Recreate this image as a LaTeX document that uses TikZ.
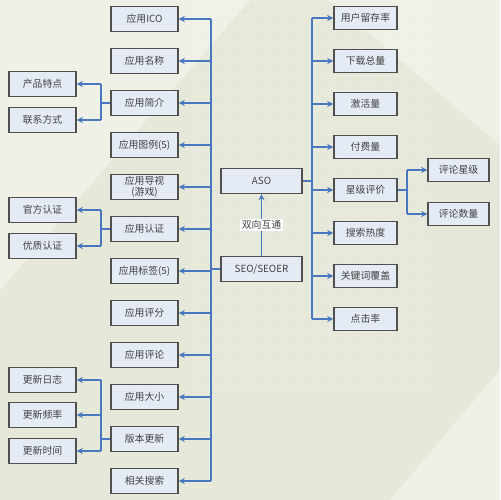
\documentclass[tikz,border=0pt]{standalone}
\usepackage{fontspec}
\newfontfamily\cjk{Noto Sans CJK SC}
\definecolor{bgdark}{HTML}{E6E9D9}
\definecolor{bglight}{HTML}{EFF1E7}
\definecolor{boxfill}{HTML}{E5EBF5}
\definecolor{boxline}{HTML}{505050}
\definecolor{linkblue}{HTML}{4A78C0}
\tikzset{
 box/.style={draw=boxline,line width=0.7pt,fill=boxfill,minimum width=1.34cm,minimum height=0.5cm,inner sep=0pt,align=center,text=black!75,font=\cjk\fontsize{5.6}{6.2}\selectfont},
 rbox/.style={box,minimum width=1.26cm,minimum height=0.46cm},
 link/.style={draw=linkblue,line width=0.6pt},
 arr/.style={link,->,>=stealth},
}
\begin{document}
\begin{tikzpicture}[x=0.02cm,y=-0.02cm]
 \useasboundingbox (0,0) rectangle (500,500);
 \fill[bgdark] (0,0) rectangle (500,500); %背景
 \fill[bglight] (0,0)--(250,0)--(0,290)--cycle;
 \fill[bglight] (330,0)--(500,0)--(500,145)--cycle;
 \fill[bglight] (390,500)--(500,500)--(500,370)--cycle;
 \draw[white,opacity=0.18,line width=0.3pt,step=0.3cm] (190,0) grid (430,390); %格子
 \coordinate (lbus) at (211,0);
 \coordinate (rbus) at (312,0);
 \coordinate (lbr) at (101,0);
 \coordinate (rbr) at (407,0);
 %中央の列
 \foreach \n/\t [count=\i from 0] in {ico/应用ICO,name/应用名称,intro/应用简介,shots/应用图例(5),video/{应用导视\\(游戏)},cert/应用认证,tags/应用标签(5),score/应用评分,review/应用评论,size/应用大小,update/版本更新,search/相关搜索}
  \node[box] (\n) at (144.5,19+42*\i) {\t};
 %左の列
 \node[box] (feat) at (42.5,84) {产品特点};
 \node[box] (contact) at (42.5,120) {联系方式};
 \node[box] (official) at (42.5,210) {官方认证};
 \node[box] (quality) at (42.5,246) {优质认证};
 \node[box] (log) at (42.5,380) {更新日志};
 \node[box] (freq) at (42.5,415) {更新频率};
 \node[box] (time) at (42.5,451) {更新时间};
 %ASO と SEO
 \node[box,minimum width=1.62cm] (aso) at (261.5,181) {ASO};
 \node[box,minimum width=1.62cm] (seo) at (261.5,269) {SEO/SEOER};
 %右の列
 \foreach \n/\t [count=\i from 0] in {retain/用户留存率,dl/下载总量,act/激活量,pay/付费量,star/星级评价,heat/搜索热度,kw/关键词覆盖,ctr/点击率}
  \node[rbox] (\n) at (365.5,18+43*\i) {\t};
 \node[rbox,minimum width=1.22cm] (starlv) at (458.5,170) {评论星级};
 \node[rbox,minimum width=1.22cm] (starnum) at (458.5,214) {评论数量};
 %左の幹線
 \draw[link] (lbus |- ico)--(lbus |- search);
 \foreach \n in {ico,name,intro,shots,video,cert,tags,score,review,size,update,search}
  \draw[arr] (lbus |- \n)--(\n.east);
 \draw[link] (seo.west)--(lbus |- seo);
 \draw[arr] (seo)--(aso)node[midway,fill=white,inner sep=1pt,text=black!75,font=\cjk\fontsize{5.6}{6.2}\selectfont]{双向互通}; %双方向
 %右の幹線
 \draw[link] (aso.east)--(rbus |- aso);
 \draw[link] (rbus |- retain)--(rbus |- ctr);
 \foreach \n in {retain,dl,act,pay,star,heat,kw,ctr}
  \draw[arr] (rbus |- \n)--(\n.west);
 \draw[link] (star.east)--(rbr |- star);
 \draw[link] (rbr |- starlv)--(rbr |- starnum);
 \draw[arr] (rbr |- starlv)--(starlv.west);
 \draw[arr] (rbr |- starnum)--(starnum.west);
 %左の枝
 \draw[link] (intro.west)--(lbr |- intro);
 \draw[link] (lbr |- feat)--(lbr |- contact);
 \draw[arr] (lbr |- feat)--(feat.east);
 \draw[arr] (lbr |- contact)--(contact.east);
 \draw[link] (cert.west)--(lbr |- cert);
 \draw[link] (lbr |- official)--(lbr |- quality);
 \draw[arr] (lbr |- official)--(official.east);
 \draw[arr] (lbr |- quality)--(quality.east);
 \draw[link] (update.west)--(lbr |- update);
 \draw[link] (lbr |- log)--(lbr |- time);
 \draw[arr] (lbr |- log)--(log.east);
 \draw[arr] (lbr |- freq)--(freq.east);
 \draw[arr] (lbr |- time)--(time.east);
\end{tikzpicture}
\end{document}
